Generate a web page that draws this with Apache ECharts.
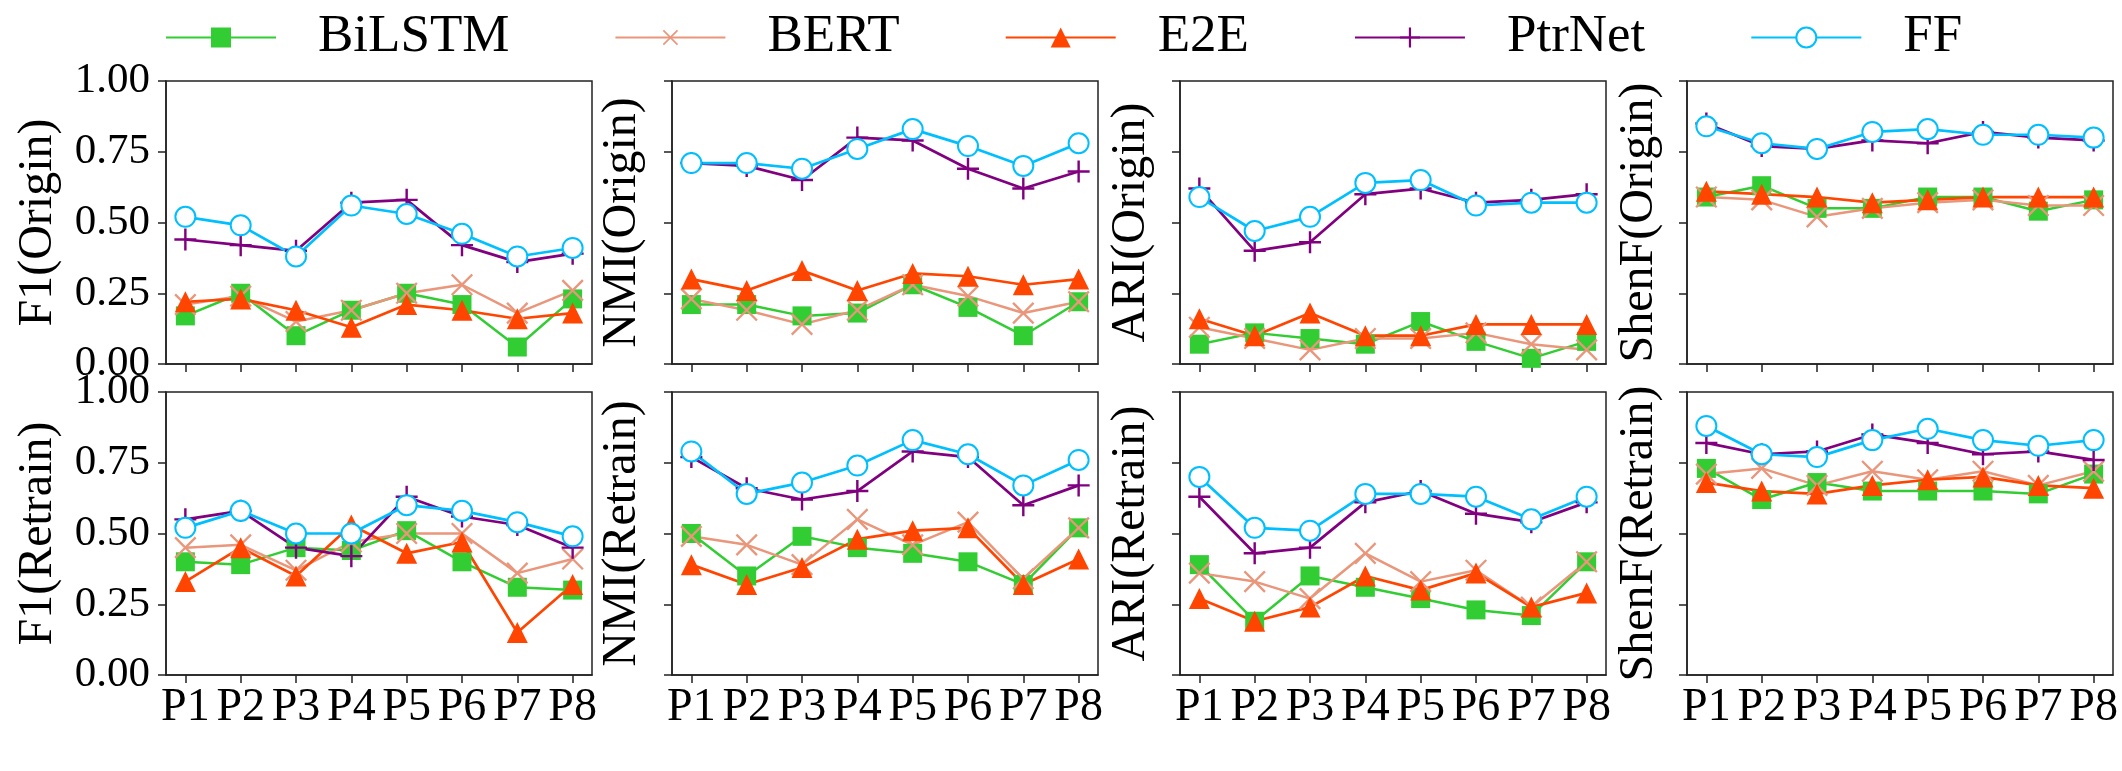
<!DOCTYPE html>
<html>
<head>
<meta charset="utf-8">
<script src="https://cdn.jsdelivr.net/npm/echarts@6/dist/echarts.min.js"></script>
<style>
  html, body { margin: 0; padding: 0; background: #fff; }
  #chart_container { width: 2122px; height: 771px; }
</style>
</head>
<body>
<div id="chart_container"></div>
<script>
// 2x4 grid of line charts, one legend on top

var categories = ['P1', 'P2', 'P3', 'P4', 'P5', 'P6', 'P7', 'P8'];
var methods    = ['BiLSTM', 'BERT', 'E2E', 'PtrNet', 'FF'];
var panelNames = ['F1(Origin)', 'NMI(Origin)', 'ARI(Origin)', 'ShenF(Origin)',
                  'F1(Retrain)', 'NMI(Retrain)', 'ARI(Retrain)', 'ShenF(Retrain)'];

// values per panel, rows in the order of methods
var f1Origin = [
    [0.17, 0.25, 0.10, 0.19, 0.25, 0.21, 0.06, 0.23],
    [0.21, 0.24, 0.15, 0.19, 0.25, 0.28, 0.18, 0.26],
    [0.22, 0.23, 0.19, 0.13, 0.21, 0.19, 0.16, 0.18],
    [0.44, 0.42, 0.40, 0.57, 0.58, 0.42, 0.36, 0.39],
    [0.52, 0.49, 0.38, 0.56, 0.53, 0.46, 0.38, 0.41],
];
var nmiOrigin = [
    [0.21, 0.21, 0.17, 0.18, 0.28, 0.20, 0.10, 0.22],
    [0.23, 0.19, 0.14, 0.19, 0.28, 0.24, 0.18, 0.22],
    [0.30, 0.26, 0.33, 0.26, 0.32, 0.31, 0.28, 0.30],
    [0.71, 0.70, 0.65, 0.80, 0.79, 0.69, 0.62, 0.68],
    [0.71, 0.71, 0.69, 0.76, 0.83, 0.77, 0.70, 0.78],
];
var ariOrigin = [
    [0.07, 0.11, 0.09, 0.07, 0.15, 0.08, 0.02, 0.08],
    [0.13, 0.09, 0.05, 0.09, 0.09, 0.11, 0.07, 0.05],
    [0.16, 0.10, 0.18, 0.10, 0.10, 0.14, 0.14, 0.14],
    [0.62, 0.40, 0.43, 0.60, 0.62, 0.57, 0.58, 0.60],
    [0.59, 0.47, 0.52, 0.64, 0.65, 0.56, 0.57, 0.57],
];
var shenfOrigin = [
    [0.59, 0.63, 0.55, 0.55, 0.59, 0.59, 0.54, 0.58],
    [0.59, 0.58, 0.52, 0.55, 0.57, 0.58, 0.56, 0.56],
    [0.61, 0.60, 0.59, 0.57, 0.58, 0.59, 0.59, 0.59],
    [0.85, 0.77, 0.76, 0.79, 0.78, 0.82, 0.80, 0.79],
    [0.84, 0.78, 0.76, 0.82, 0.83, 0.81, 0.81, 0.80],
];
var f1Retrain = [
    [0.40, 0.39, 0.45, 0.44, 0.51, 0.40, 0.31, 0.30],
    [0.45, 0.46, 0.37, 0.47, 0.50, 0.50, 0.36, 0.41],
    [0.33, 0.45, 0.35, 0.53, 0.43, 0.47, 0.15, 0.32],
    [0.55, 0.58, 0.45, 0.42, 0.63, 0.56, 0.53, 0.45],
    [0.52, 0.58, 0.50, 0.50, 0.60, 0.58, 0.54, 0.49],
];
var nmiRetrain = [
    [0.50, 0.35, 0.49, 0.45, 0.43, 0.40, 0.32, 0.52],
    [0.49, 0.46, 0.39, 0.55, 0.46, 0.54, 0.34, 0.52],
    [0.39, 0.32, 0.38, 0.48, 0.51, 0.52, 0.32, 0.41],
    [0.77, 0.66, 0.62, 0.65, 0.79, 0.77, 0.60, 0.67],
    [0.79, 0.64, 0.68, 0.74, 0.83, 0.78, 0.67, 0.76],
];
var ariRetrain = [
    [0.39, 0.19, 0.35, 0.31, 0.27, 0.23, 0.21, 0.40],
    [0.36, 0.33, 0.27, 0.43, 0.33, 0.37, 0.24, 0.40],
    [0.27, 0.19, 0.24, 0.35, 0.30, 0.36, 0.24, 0.29],
    [0.63, 0.43, 0.45, 0.61, 0.65, 0.57, 0.54, 0.61],
    [0.70, 0.52, 0.51, 0.64, 0.64, 0.63, 0.55, 0.63],
];
var shenfRetrain = [
    [0.73, 0.62, 0.68, 0.65, 0.65, 0.65, 0.64, 0.71],
    [0.71, 0.73, 0.67, 0.72, 0.69, 0.72, 0.67, 0.72],
    [0.68, 0.65, 0.64, 0.67, 0.69, 0.70, 0.67, 0.66],
    [0.82, 0.78, 0.79, 0.85, 0.82, 0.78, 0.79, 0.76],
    [0.88, 0.78, 0.77, 0.83, 0.87, 0.83, 0.81, 0.83],
];

var panels = [f1Origin, nmiOrigin, ariOrigin, shenfOrigin,
              f1Retrain, nmiRetrain, ariRetrain, shenfRetrain];


// look
// ======================
var FONT = 'Liberation Serif';
var colors = ['#32CD32', '#E9967A', '#FF4500', '#800080', '#00BFFF'];

// thin filled crosses; 'x' is the same cross turned by 45 degrees
var plusPath = 'path://M-0.11,-1H0.11V-0.11H1V0.11H0.11V1H-0.11V0.11H-1V-0.11H-0.11Z';
var xPath    = 'path://M-0.08,-1H0.08V-0.08H1V0.08H0.08V1H-0.08V0.08H-1V-0.08H-0.08Z';

var symbols     = ['rect', xPath, 'triangle', plusPath, 'emptyCircle'];
var symbolSizes = [19, 29, 21, 22, 20];
var symbolRot   = [0, 45, 0, 0, 0];
var lineWidths  = [2.5, 2.5, 2.7, 2.7, 2.7];

var colLeft   = [166, 672, 1180, 1687];
var colWidth  = 426;
var rowTop    = [81, 392];
var rowHeight = 283;
var nameGaps  = [104, 26, 25, 24];

var xTicks = [1, 2, 3, 4, 5, 6, 7, 8];

var grids = [], xAxes = [], yAxes = [], series = [];

for (let p = 0; p < 8; p++) {
    let row = Math.floor(p / 4);
    let col = p % 4;

    grids.push({
        left: colLeft[col],
        top: rowTop[row],
        width: colWidth,
        height: rowHeight,
        show: true,
        borderColor: '#222',
        borderWidth: 1.5,
    });

    xAxes.push({
        gridIndex: p,
        type: 'value',
        // matplotlib style 5% margin
        min: 0.65,
        max: 8.35,
        splitLine: { show: false },
        axisLine: { show: true, onZero: false, lineStyle: { color: '#222', width: 1.5 } },
        axisTick: {
            show: true, inside: false, length: 8,
            customValues: xTicks,
            lineStyle: { color: '#222', width: 1.5 },
        },
        axisLabel: {
            show: row == 1,
            customValues: xTicks,
            formatter: function (v) { return categories[Math.round(v) - 1]; },
            fontFamily: FONT,
            fontSize: 46,
            color: '#000',
            margin: 10,
        },
    });

    yAxes.push({
        gridIndex: p,
        type: 'value',
        min: 0,
        max: 1,
        interval: 0.25,
        splitLine: { show: false },
        axisLine: { show: true, lineStyle: { color: '#222', width: 1.5 } },
        axisTick: { show: true, inside: false, length: 8, lineStyle: { color: '#222', width: 1.5 } },
        axisLabel: {
            show: col == 0,
            formatter: function (v) { return v.toFixed(2); },
            fontFamily: FONT,
            fontSize: 43,
            color: '#000',
            margin: 16,
        },
        name: panelNames[p],
        nameLocation: 'middle',
        nameGap: nameGaps[col],
        nameTextStyle: { fontFamily: FONT, fontSize: 48, color: '#000' },
    });

    for (let m = 0; m < methods.length; m++) {
        let vals = panels[p][m];
        series.push({
            name: methods[m],
            type: 'line',
            xAxisIndex: p,
            yAxisIndex: p,
            data: vals.map(function (v, i) { return [xTicks[i], v]; }),
            symbol: symbols[m],
            symbolSize: symbolSizes[m],
            symbolRotate: symbolRot[m],
            showAllSymbol: true,
            color: colors[m],
            lineStyle: { color: colors[m], width: lineWidths[m] },
            itemStyle: m == 4
                ? { color: colors[m], borderColor: colors[m], borderWidth: 2.2 }
                : { color: colors[m], borderWidth: 0 },
            emphasis: { disabled: true },
            animation: false,
        });
    }
}

var option = {
    animation: false,
    backgroundColor: '#fff',
    legend: {
        data: methods,
        left: 160,
        top: 6,
        itemWidth: 110,
        itemHeight: 25,
        itemGap: 105,
        textStyle: {
            fontFamily: FONT,
            fontSize: 53,
            color: '#000',
            padding: [0, 0, 0, 37],
        },
    },
    grid: grids,
    xAxis: xAxes,
    yAxis: yAxes,
    series: series,
};

var chartDom = document.getElementById('chart_container');
var myChart = echarts.init(chartDom, null, { renderer: 'canvas' });
myChart.setOption(option);
</script>
</body>
</html>
